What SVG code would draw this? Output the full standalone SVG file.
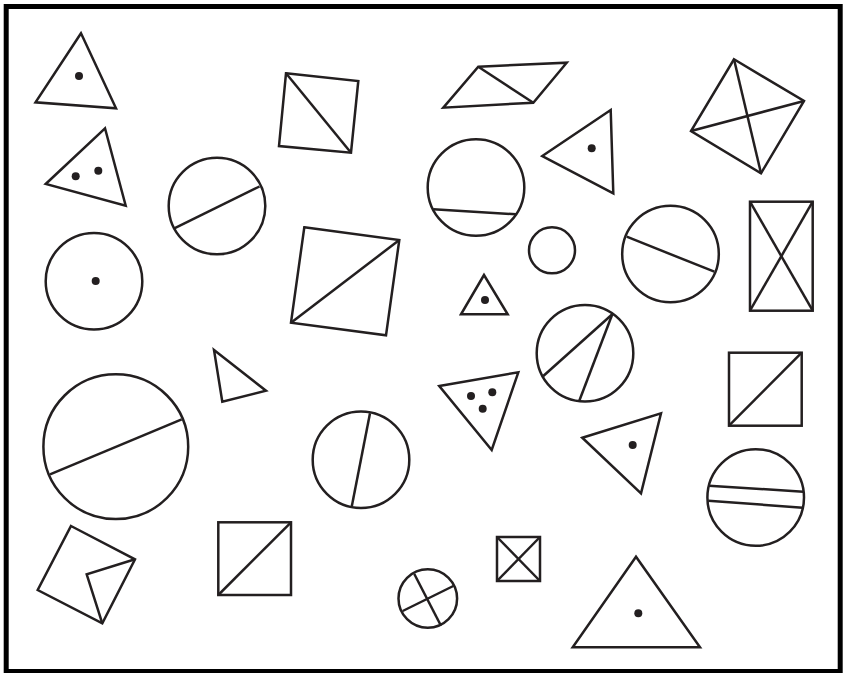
<svg xmlns="http://www.w3.org/2000/svg" width="846" height="673" viewBox="0 0 846 673">
<style>
.s{fill:none;stroke:#231f20;stroke-width:2.5;stroke-linejoin:miter}
.d{fill:#231f20}
</style>
<rect width="846" height="673" fill="#fff"/>
<rect x="6.2" y="6.5" width="834" height="665" fill="none" stroke="#000" stroke-width="5"/>
<g id="tri1"><polygon class="s" points="81,33.3 35.5,102.3 116,108.3"/><circle class="d" cx="79" cy="76" r="4"/></g>
<g id="tri2"><polygon class="s" points="105,128.3 45.7,184 125.7,205.7"/><circle class="d" cx="75.7" cy="176.3" r="4"/><circle class="d" cx="98.3" cy="170.7" r="4"/></g>
<g id="circ1"><circle class="s" cx="217" cy="206" r="48.3"/><line class="s" x1="174.3" y1="228.3" x2="259.5" y2="186.5"/></g>
<g id="sq1"><polygon class="s" points="286,73.3 358.3,81 351,152.7 279,146"/><line class="s" x1="286" y1="73.3" x2="351" y2="152.7"/></g>
<g id="para"><polygon class="s" points="478.3,66.7 566.7,62.7 533.3,102.7 443.3,107.7"/><line class="s" x1="478.3" y1="66.7" x2="533.3" y2="102.7"/></g>
<g id="circ2"><circle class="s" cx="476" cy="187.5" r="48.3"/><line class="s" x1="433.3" y1="209.3" x2="516" y2="214.3"/></g>
<g id="tri3"><polygon class="s" points="542.3,156 610.7,110 613.3,193.3"/><circle class="d" cx="591.7" cy="148.3" r="4"/></g>
<g id="kite"><polygon class="s" points="734,59.3 804,101 761,173.3 691,131"/><line class="s" x1="734" y1="59.3" x2="761" y2="173.3"/><line class="s" x1="691" y1="131" x2="804" y2="101"/></g>
<g id="circ3"><circle class="s" cx="552" cy="250.3" r="23"/></g>
<g id="circ4"><circle class="s" cx="670.5" cy="254" r="48.3"/><line class="s" x1="626.7" y1="236.7" x2="714.3" y2="271.7"/></g>
<g id="rect1"><rect class="s" x="750" y="201.7" width="62.7" height="109"/><line class="s" x1="750" y1="201.7" x2="812.7" y2="310.7"/><line class="s" x1="812.7" y1="201.7" x2="750" y2="310.7"/></g>
<g id="circ5"><circle class="s" cx="94" cy="281.3" r="48.3"/><circle class="d" cx="95.7" cy="281" r="4"/></g>
<g id="sq2"><polygon class="s" points="304.3,227.3 399.3,240 386,335.3 291,322.7"/><line class="s" x1="291" y1="322.7" x2="399.3" y2="240"/></g>
<g id="tri4"><polygon class="s" points="484,275 461,314.3 507.7,314.3"/><circle class="d" cx="485" cy="300" r="4"/></g>
<g id="tri5"><polygon class="s" points="214,350 266,390.7 222.3,401.7"/></g>
<g id="circ6"><circle class="s" cx="115.8" cy="446.7" r="72.4"/><line class="s" x1="181.7" y1="419.3" x2="50" y2="474.3"/></g>
<g id="circ7"><circle class="s" cx="361" cy="459.7" r="48.3"/><line class="s" x1="370" y1="413.3" x2="351.7" y2="506.7"/></g>
<g id="tri6"><polygon class="s" points="439.3,386 518.3,372.3 491.7,450"/><circle class="d" cx="471" cy="396" r="4"/><circle class="d" cx="492.3" cy="392.3" r="4"/><circle class="d" cx="482.7" cy="408.7" r="4"/></g>
<g id="circ8"><circle class="s" cx="585" cy="353.3" r="48.3"/><line class="s" x1="612.3" y1="314.3" x2="543.3" y2="376"/><line class="s" x1="612.3" y1="314.3" x2="579.3" y2="400.7"/></g>
<g id="sq3"><rect class="s" x="729" y="352.7" width="72.7" height="73"/><line class="s" x1="729" y1="425.7" x2="801.7" y2="352.7"/></g>
<g id="tri7"><polygon class="s" points="582.3,437.7 661,413.3 641,493.3"/><circle class="d" cx="632.7" cy="445" r="4"/></g>
<g id="circ9"><circle class="s" cx="755.7" cy="497.5" r="48.3"/><line class="s" x1="709" y1="485.7" x2="803.3" y2="491.7"/><line class="s" x1="708.3" y1="500.7" x2="802.7" y2="507.7"/></g>
<g id="sq4"><polygon class="s" points="71,526 135,559.3 102.3,623.3 37.7,590"/><polyline class="s" points="135,559.3 86.7,574.3 102.3,623.3"/></g>
<g id="sq5"><rect class="s" x="218.3" y="522.3" width="72.7" height="72.7"/><line class="s" x1="218.3" y1="595" x2="291" y2="522.3"/></g>
<g id="circ10"><circle class="s" cx="427.8" cy="598.5" r="29.3"/><line class="s" x1="414.3" y1="574" x2="441" y2="625.7"/><line class="s" x1="402.7" y1="611" x2="453.3" y2="586"/></g>
<g id="sq6"><rect class="s" x="497" y="537" width="43" height="44"/><line class="s" x1="497" y1="537" x2="540" y2="581"/><line class="s" x1="540" y1="537" x2="497" y2="581"/></g>
<g id="tri8"><polygon class="s" points="636,556.7 572.7,647.3 700,647.3"/><circle class="d" cx="638.3" cy="613.3" r="4"/></g>
</svg>
